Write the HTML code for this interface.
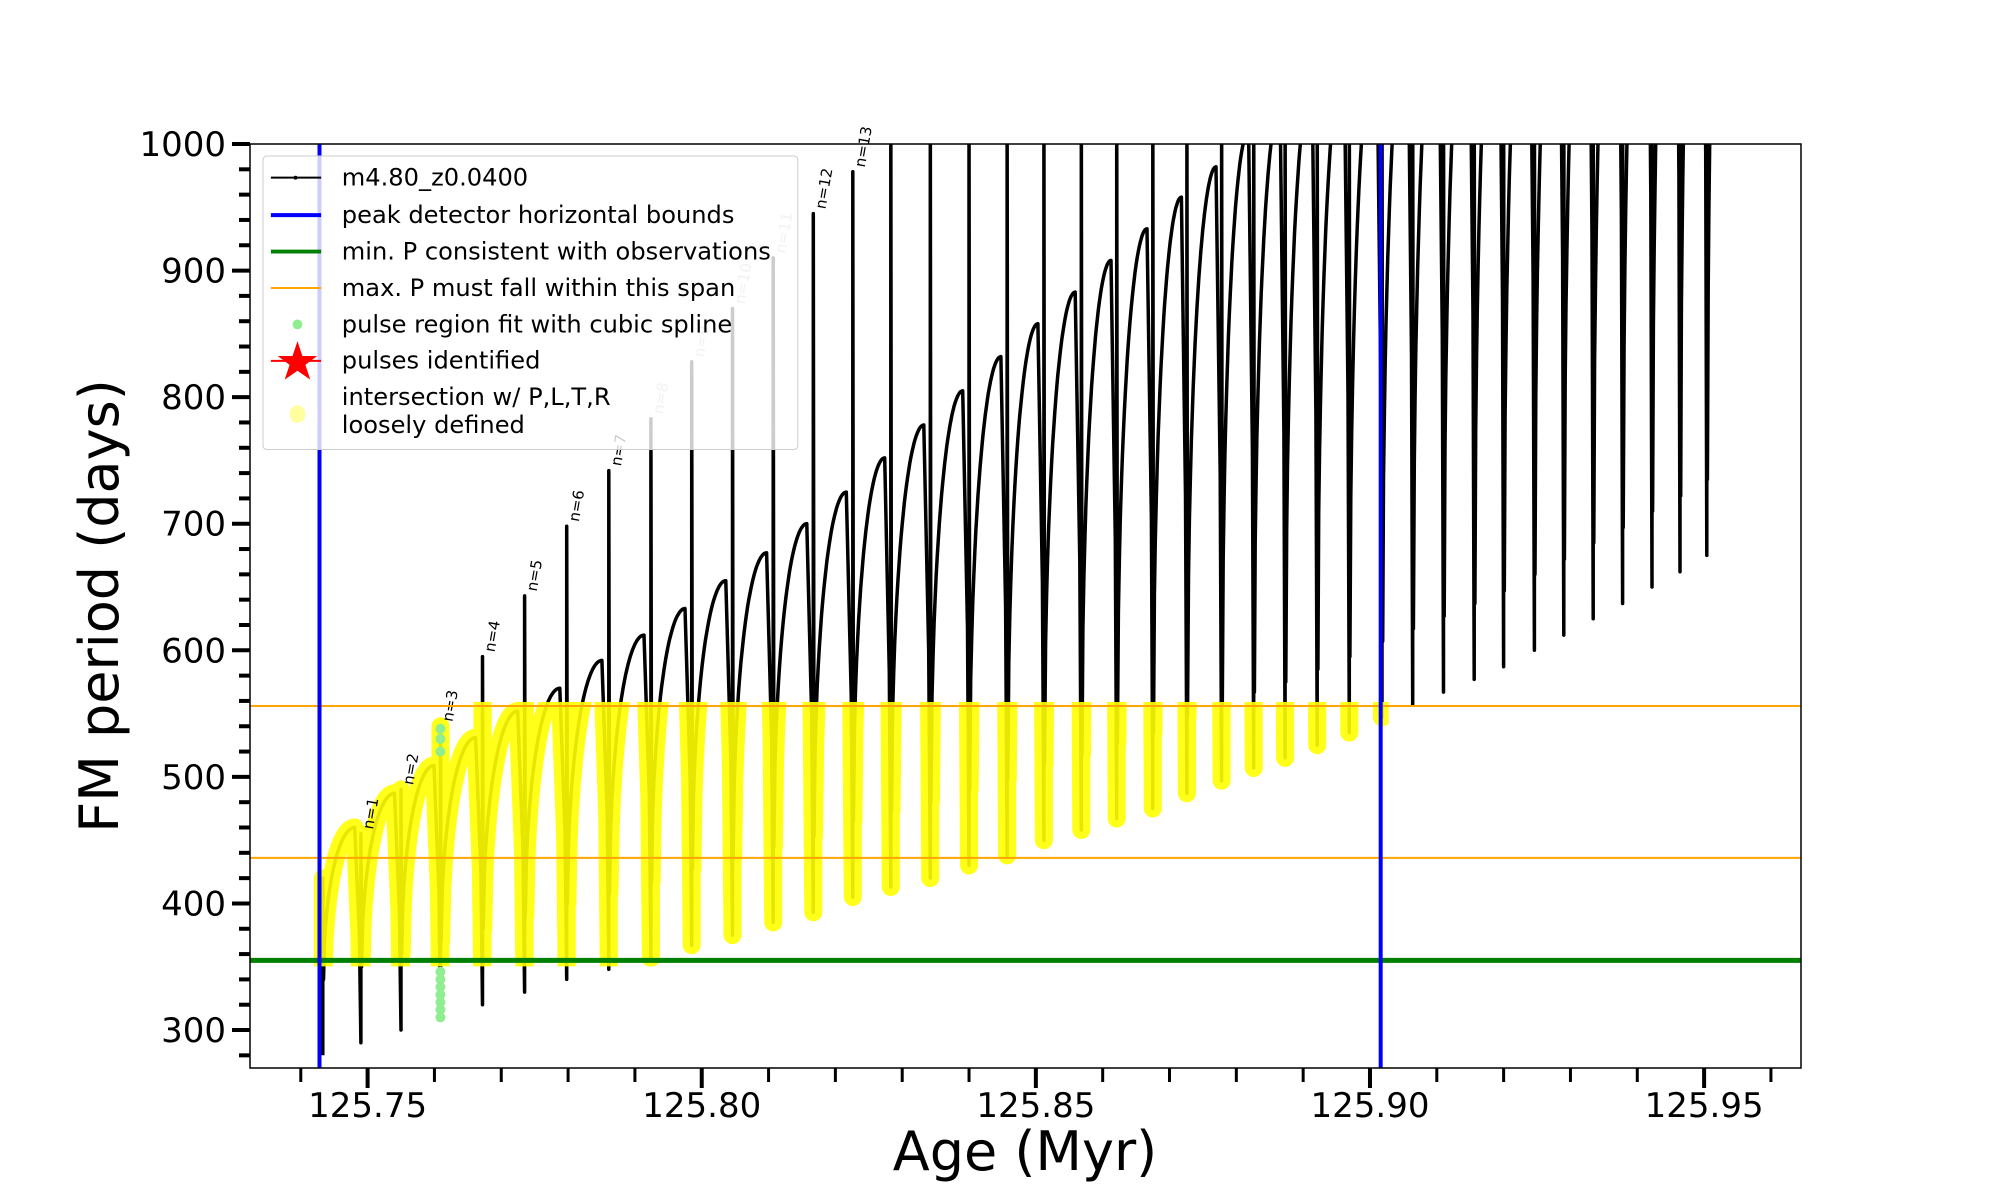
<!DOCTYPE html>
<html><head><meta charset="utf-8"><style>
html,body{margin:0;padding:0;background:#fff;}
svg{display:block;font-family:"DejaVu Sans","Liberation Sans",sans-serif;}
</style></head>
<body>
<svg id="chart" width="2000" height="1200" viewBox="0 0 2000 1200" xmlns="http://www.w3.org/2000/svg" style="position:absolute;left:0;top:0">
<defs>
<clipPath id="plotclip"><rect x="250" y="144" width="1551" height="924"/></clipPath>
<clipPath id="bandclip"><rect id="bandrect" x="0" y="0" width="0" height="0"/></clipPath>
</defs>
<rect x="250" y="144" width="1551" height="924" fill="#fff"/>
<g id="series" clip-path="url(#plotclip)"></g>
<g id="axes"></g>
<text x="1025" y="1170" font-size="54" text-anchor="middle">Age (Myr)</text>
<text x="0" y="0" font-size="54" text-anchor="middle" transform="translate(118 606) rotate(-90)">FM period (days)</text>
<g font-size="24.5" transform="translate(263 156) scale(0.985) translate(-267 -158)">
<rect x="267" y="158" width="543" height="298" rx="4" fill="#fff" fill-opacity="0.8" stroke="#ccc"/>
<g><line x1="275" x2="326" y1="180" y2="180" stroke="#000" stroke-width="2"/><circle cx="300" cy="180" r="2"/><text x="347" y="188">m4.80_z0.0400</text></g>
<g><line x1="275" x2="326" y1="218" y2="218" stroke="#00f" stroke-width="4"/><text x="347" y="226">peak detector horizontal bounds</text></g>
<g><line x1="275" x2="326" y1="255" y2="255" stroke="#008000" stroke-width="4"/><text x="347" y="263">min. P consistent with observations</text></g>
<g><line x1="275" x2="326" y1="292" y2="292" stroke="#ffa500" stroke-width="2"/><text x="347" y="300">max. P must fall within this span</text></g>
<g><circle cx="302" cy="329" r="5" fill="#90ee90"/><text x="347" y="337">pulse region fit with cubic spline</text></g>
<g><line x1="275" x2="326" y1="366" y2="366" stroke="#f00" stroke-width="2"/><polygon points="302,346 307,361 322,361 310,370 315,385 302,376 289,385 294,370 282,361 297,361" fill="#f00"/><text x="347" y="374">pulses identified</text></g>
<g><ellipse cx="302" cy="420" rx="8" ry="9" fill="#ffffa0"/><text x="347" y="411">intersection w/ P,L,T,R</text><text x="347" y="439">loosely defined</text></g>
</g>
</svg>
<script>
// ---- data ----
const pulseAges = [125.7433,125.7490,125.7550,125.7609,125.7672,125.7735,125.7798,125.7861,125.7924,125.7985,125.8046,125.8107,125.8167,125.8226,125.8283,125.8342,125.8400,125.8457,125.8512,125.8568,125.8621,125.8675,125.8726,125.8778,125.8826,125.8873,125.8921,125.8969,125.9018,125.9064,125.9110,125.9156,125.9200,125.9246,125.9290,125.9334,125.9378,125.9422,125.9464,125.9504];
const pulseMins = [280,290,300,310,320,330,340,348,357,367,375,385,393,405,413,420,430,438,450,458,467,475,487,497,507,515,525,535,547,557,567,577,587,600,612,625,637,650,662,675];
const arcPeaks = [460,487,509,531,552,570,592,612,633,655,677,700,725,752,778,805,832,858,883,908,933,958,982,1010,1030,1050,1070,1090,1110,1130,1150,1170,1190,1210,1230,1250,1270,1290,1310,1330];
const spikeTops = [420,455,490,540,595,643,698,742,783,828,870,910,945,978,1050,1050,1050,1050,1050,1050,1050,1050,1050,1050,1050,1050,1050,1050,1050,1050,1050,1050,1050,1050,1050,1050,1050,1050,1050,1050];
const labelN = ["n=1","n=2","n=3","n=4","n=5","n=6","n=7","n=8","n=9","n=10","n=11","n=12","n=13"];
const xTicks = [125.75,125.80,125.85,125.90,125.95];
const yTicks = [300,400,500,600,700,800,900,1000];
const blueBounds = [125.7428,125.9016];
const minP = [355];
const maxPSpan = [436,556];
const greenDots = [310,316,322,328,334,340,346,520,530,538];

// ---- axes functions ----
const X0=250,X1=1801,Y0=144,Y1=1068;
const xmin=125.7324,xmax=125.9645,ymin=270,ymax=1000;
const xs=v=>X0+(v-xmin)/(xmax-xmin)*(X1-X0);
const ys=v=>Y1-(v-ymin)/(ymax-ymin)*(Y1-Y0);
const NS="http://www.w3.org/2000/svg";
function mk(tag,attrs,parent){const e=document.createElementNS(NS,tag);for(const k in attrs)e.setAttribute(k,attrs[k]);parent.appendChild(e);return e;}
const series=document.getElementById('series');
const axes=document.getElementById('axes');

let pts=[];
for(let i=0;i<pulseAges.length;i++){
  const t=pulseAges[i], mn=pulseMins[i];
  const tn = i+1<pulseAges.length ? pulseAges[i+1] : t+0.004;
  pts.push([t,mn]);pts.push([t,spikeTops[i]]);pts.push([t+0.0001,mn+60]);
  const span=tn-t, pk=arcPeaks[i];
  const start=mn+60;
  const N=30;
  for(let k=1;k<=N;k++){const u=k/N;const v=start+(pk-start)*Math.sqrt(1-(1-u)*(1-u));pts.push([t+0.0001+u*span*0.82,v]);}
  if(i+1<pulseAges.length){pts.push([tn-span*0.04,(pk+pulseMins[i+1])/2]);}
}
const d=pts.map((p,i)=>(i?'L':'M')+xs(p[0]).toFixed(1)+','+ys(p[1]).toFixed(1)).join('');
const blk=mk('path',{d:d,fill:'none',stroke:'#000','stroke-width':3.5,'stroke-linejoin':'round'},series);



const br=document.getElementById('bandrect');
br.setAttribute('x',xs(blueBounds[0])-8);br.setAttribute('width',xs(blueBounds[1])-xs(blueBounds[0])+16);
br.setAttribute('y',ys(maxPSpan[1])-4);br.setAttribute('height',ys(minP[0])-ys(maxPSpan[1])+10);
const yel=mk('path',{d:d,fill:'none',stroke:'#ffff00','stroke-opacity':0.9,'stroke-width':18,'stroke-linejoin':'round','stroke-linecap':'round','clip-path':'url(#bandclip)'},series);



greenDots.forEach(v=>{const c=mk('circle',{cx:xs(pulseAges[3]),cy:ys(v),r:5,fill:'#90ee90'},series);

});

labelN.forEach((s,i)=>{const x=xs(pulseAges[i+1])+12,y=ys(spikeTops[i+1])-4;
const t=mk('text',{x:x,y:y,'font-size':15,fill:(i>=7&&i<=10)?'#bbb':'#000',transform:`rotate(-80 ${x} ${y})`},axes);t.textContent=s;

});

maxPSpan.forEach(v=>{const l=mk('line',{x1:X0,x2:X1,y1:ys(v),y2:ys(v),stroke:'#ffa500','stroke-width':2},axes);

});
minP.forEach(v=>{const l=mk('line',{x1:X0,x2:X1,y1:ys(v),y2:ys(v),stroke:'#008000','stroke-width':5},axes);

});
blueBounds.forEach(v=>{const l=mk('line',{x1:xs(v),x2:xs(v),y1:Y0,y2:Y1,stroke:'#0000ff','stroke-width':4},axes);

});

const fr=mk('rect',{x:X0,y:Y0,width:X1-X0,height:Y1-Y0,fill:'none',stroke:'#000','stroke-width':1.5},axes);



for(let v=125.74;v<=xmax;v+=0.01){const x=xs(v);const major=xTicks.some(t=>Math.abs(t-v)<1e-6);
mk('line',{x1:x,x2:x,y1:Y1,y2:Y1+(major?20:14),stroke:'#000','stroke-width':major?4:3},axes);}
xTicks.forEach(v=>{const t=mk('text',{x:xs(v),y:1117,'font-size':34,'text-anchor':'middle'},axes);t.textContent=v.toFixed(2);

});
for(let v=280;v<=1000;v+=20){const y=ys(v);const major=v%100===0;
mk('line',{x1:X0,x2:X0-(major?18:11),y1:y,y2:y,stroke:'#000','stroke-width':4},axes);}
yTicks.forEach(v=>{const t=mk('text',{x:226,y:ys(v)+12,'font-size':34,'text-anchor':'end'},axes);t.textContent=v;

});
</script>
</body></html>
